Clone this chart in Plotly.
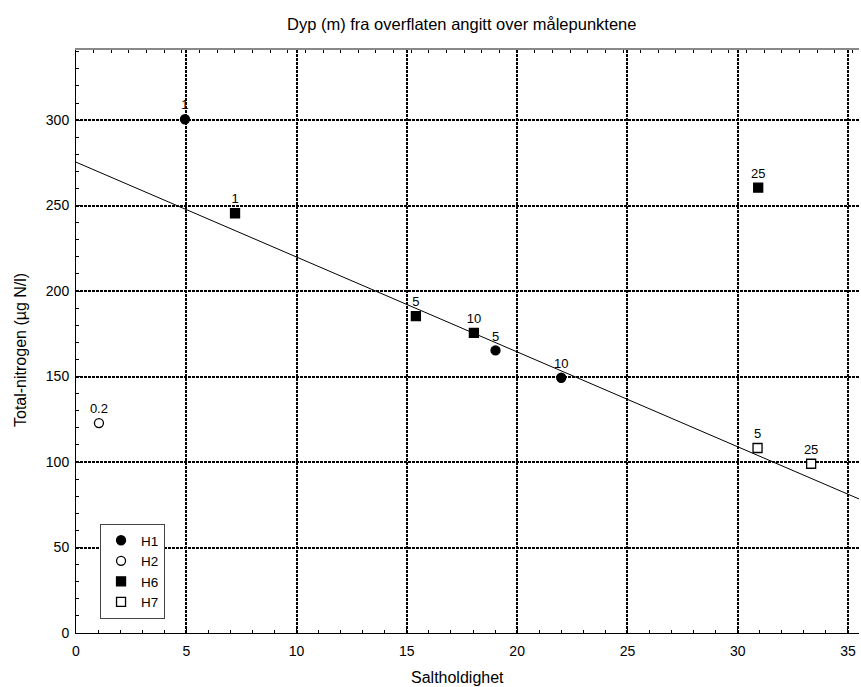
import plotly.graph_objects as go

# ---- data ----
h1_x = [4.94, 19.02, 22.0]
h1_y = [300.5, 165.3, 149.3]
h1_lbl = ["1", "5", "10"]

h2_x = [1.04]
h2_y = [122.8]
h2_lbl = ["0.2"]

h6_x = [7.21, 15.41, 18.04, 30.93]
h6_y = [245.5, 185.4, 175.5, 260.5]
h6_lbl = ["1", "5", "10", "25"]

h7_x = [30.9, 33.33]
h7_y = [108.2, 99.0]
h7_lbl = ["5", "25"]

trend_x = [0.0, 35.5]
trend_y = [275.4, 78.4]

x_range = [0, 35.5]
y_range = [0, 341]

FONT = "Liberation Sans, Arial, sans-serif"

fig = go.Figure()

fig.add_trace(go.Scatter(x=trend_x, y=trend_y, mode="lines", xaxis="x2",
                         line=dict(color="black", width=1), showlegend=False,
                         hoverinfo="skip"))

def pts(name, x, y, lbl, symbol, fill):
    fig.add_trace(go.Scatter(
        x=x, y=y, name=name, mode="markers+text", text=lbl,
        textposition="top center",
        textfont=dict(family=FONT, size=13, color="black"),
        marker=dict(symbol=symbol, size=9, color=fill,
                    line=dict(color="black", width=1.3)),
        cliponaxis=False))

pts("H1", h1_x, h1_y, h1_lbl, "circle", "black")
pts("H2", h2_x, h2_y, h2_lbl, "circle", "white")
pts("H6", h6_x, h6_y, h6_lbl, "square", "black")
pts("H7", h7_x, h7_y, h7_lbl, "square", "white")

grid_dash = "3px,1px"

fig.update_layout(
    width=861, height=687,
    margin=dict(l=76, r=1.5, t=50, b=54),
    paper_bgcolor="white", plot_bgcolor="white",
    font=dict(family=FONT, size=14, color="black"),
    showlegend=True,
    legend=dict(x=0.0307, y=0.187, xanchor="left", yanchor="top",
                bgcolor="white", bordercolor="#444", borderwidth=1,
                font=dict(family=FONT, size=13.5, color="black")),
    xaxis=dict(range=x_range, dtick=5, tick0=0, showgrid=True,
               gridcolor="black", gridwidth=1.5, griddash=grid_dash,
               zeroline=False, showline=True, linecolor="black", linewidth=1,
               ticks="inside", ticklen=4, tickcolor="black",
               minor=dict(dtick=1, ticks="inside", ticklen=3, tickcolor="black", showgrid=False),
               tickfont=dict(family=FONT, size=14), ticklabelstandoff=5),
    xaxis2=dict(range=x_range, overlaying="x", side="top", showgrid=False,
                zeroline=False, showline=True, linecolor="#888", linewidth=2,
                ticks="inside", ticklen=3, tickcolor="black", dtick=0.8, tick0=0,
                showticklabels=False),
    yaxis=dict(range=y_range, dtick=50, tick0=0, showgrid=True,
               gridcolor="black", gridwidth=1.5, griddash=grid_dash,
               zeroline=False, showline=True, linecolor="black", linewidth=1,
               ticks="inside", ticklen=4, tickcolor="black",
               minor=dict(dtick=10, ticks="inside", ticklen=3, tickcolor="black", showgrid=False),
               tickfont=dict(family=FONT, size=14), ticklabelstandoff=3),
    annotations=[
        dict(text="Dyp (m) fra overflaten angitt over målepunktene",
             xref="paper", yref="paper", x=0.4917, y=(633 - 24) / 583,
             xanchor="center", yanchor="middle", showarrow=False,
             font=dict(family=FONT, size=16.5)),
        dict(text="Saltholdighet", xref="paper", yref="paper",
             x=0.4866, y=(633 - 678) / 583, xanchor="center", yanchor="middle",
             showarrow=False, font=dict(family=FONT, size=16)),
        dict(text="Total-nitrogen (µg N/l)", xref="paper", yref="paper",
             x=(20 - 76) / 783, y=(633 - 350) / 583, xanchor="center",
             yanchor="middle", textangle=-90, showarrow=False,
             font=dict(family=FONT, size=16)),
    ],
)

fig.write_html("out.html",
               config={"displayModeBar": False},
               post_script="document.body.style.margin='0';document.body.style.overflow='hidden';")
